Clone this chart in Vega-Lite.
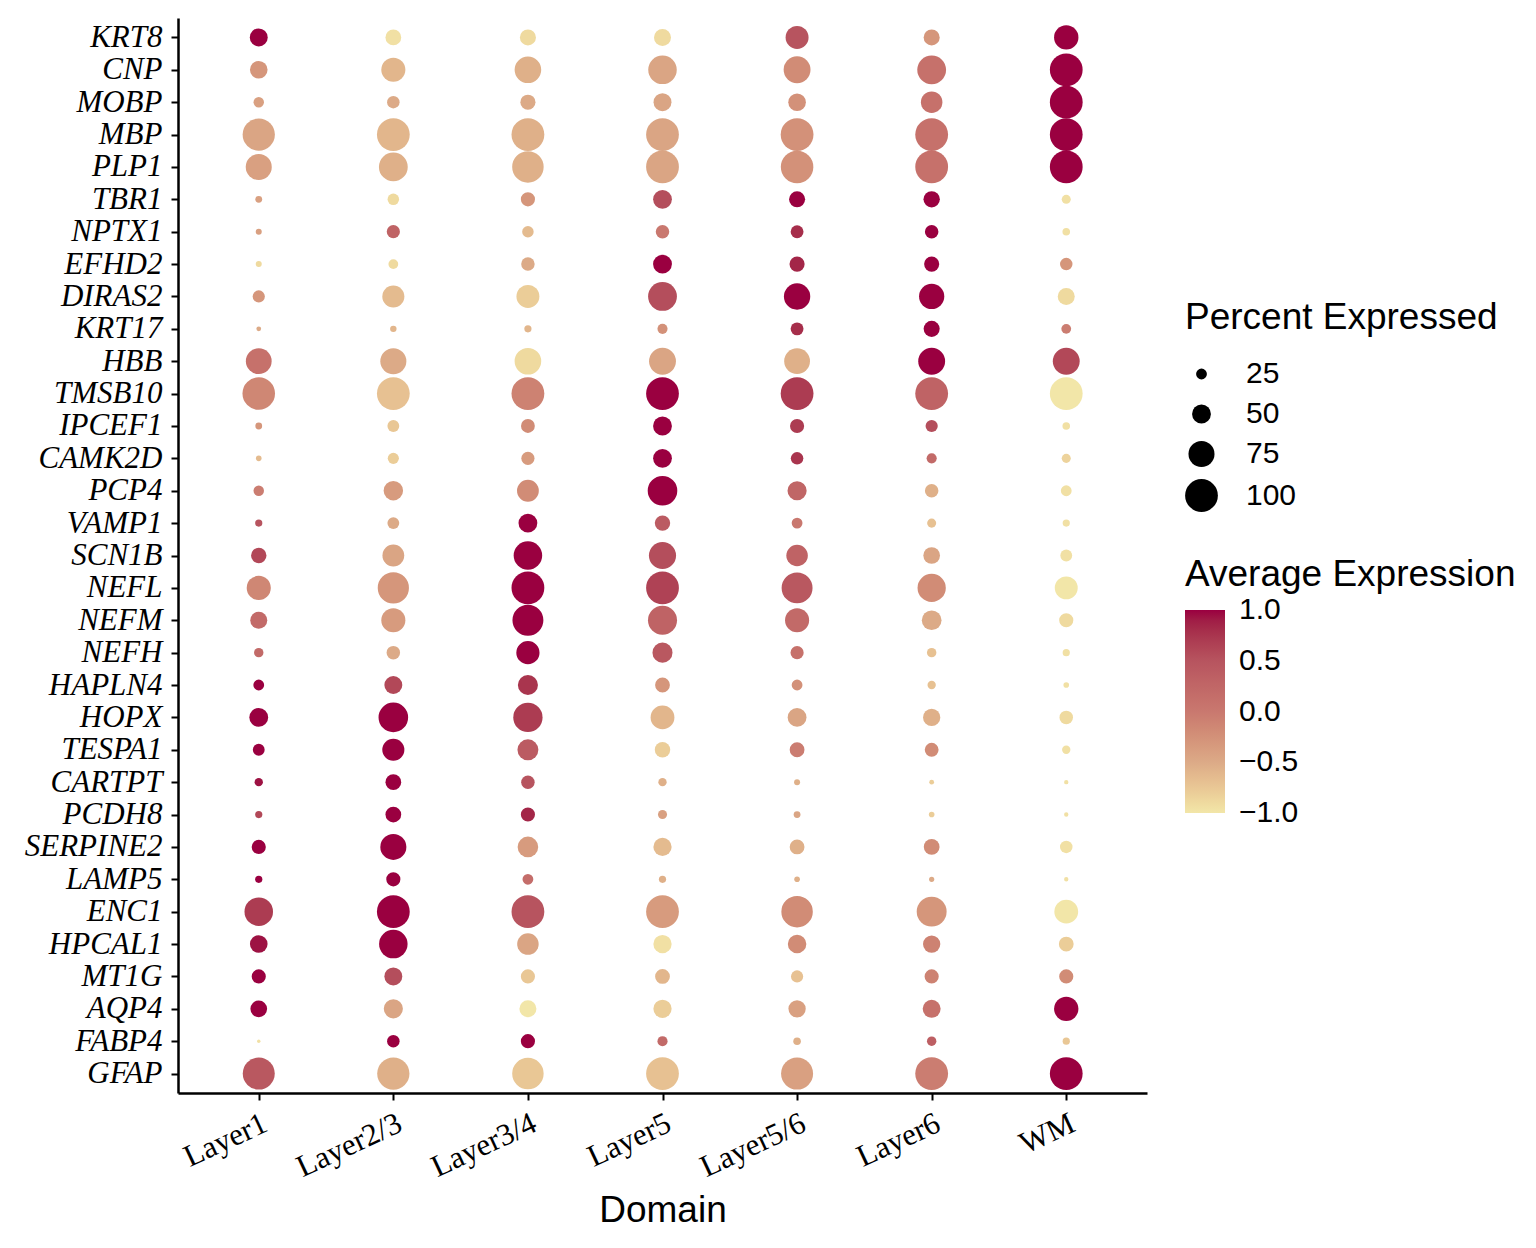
{
  "$schema": "https://vega.github.io/schema/vega-lite/v6.json",
  "autosize": {"type": "none"},
  "width": 969,
  "height": 1075,
  "padding": {"left": 178, "top": 18, "right": 389, "bottom": 155},
  "background": "white",
  "config": {
    "view": {"stroke": null},
    "axis": {
      "grid": false,
      "domainColor": "black",
      "domainWidth": 2.5,
      "tickColor": "black",
      "tickWidth": 2,
      "tickSize": 7,
      "labelColor": "black",
      "titleColor": "black"
    },
    "legend": {
      "titleFont": "Liberation Sans",
      "titleFontWeight": "normal",
      "titleFontSize": 37,
      "titleLimit": 600,
      "titleColor": "black",
      "labelFont": "Liberation Sans",
      "labelFontSize": 30,
      "labelColor": "black"
    }
  },
  "data": {
    "values": [
      {"gene": "KRT8", "domain": "Layer1", "pct": 47, "avg": 1.0},
      {"gene": "KRT8", "domain": "Layer2/3", "pct": 40, "avg": -0.95},
      {"gene": "KRT8", "domain": "Layer3/4", "pct": 41, "avg": -0.9},
      {"gene": "KRT8", "domain": "Layer5", "pct": 44, "avg": -0.9},
      {"gene": "KRT8", "domain": "Layer5/6", "pct": 64, "avg": 0.5},
      {"gene": "KRT8", "domain": "Layer6", "pct": 41, "avg": -0.3},
      {"gene": "KRT8", "domain": "WM", "pct": 69, "avg": 1.0},
      {"gene": "CNP", "domain": "Layer1", "pct": 46, "avg": -0.3},
      {"gene": "CNP", "domain": "Layer2/3", "pct": 68, "avg": -0.6},
      {"gene": "CNP", "domain": "Layer3/4", "pct": 77, "avg": -0.55},
      {"gene": "CNP", "domain": "Layer5", "pct": 84, "avg": -0.45},
      {"gene": "CNP", "domain": "Layer5/6", "pct": 78, "avg": -0.2},
      {"gene": "CNP", "domain": "Layer6", "pct": 85, "avg": 0.1},
      {"gene": "CNP", "domain": "WM", "pct": 100, "avg": 1.0},
      {"gene": "MOBP", "domain": "Layer1", "pct": 24, "avg": -0.4},
      {"gene": "MOBP", "domain": "Layer2/3", "pct": 30, "avg": -0.5},
      {"gene": "MOBP", "domain": "Layer3/4", "pct": 38, "avg": -0.5},
      {"gene": "MOBP", "domain": "Layer5", "pct": 47, "avg": -0.45},
      {"gene": "MOBP", "domain": "Layer5/6", "pct": 46, "avg": -0.25},
      {"gene": "MOBP", "domain": "Layer6", "pct": 59, "avg": 0.1},
      {"gene": "MOBP", "domain": "WM", "pct": 100, "avg": 1.0},
      {"gene": "MBP", "domain": "Layer1", "pct": 98, "avg": -0.45},
      {"gene": "MBP", "domain": "Layer2/3", "pct": 100, "avg": -0.6},
      {"gene": "MBP", "domain": "Layer3/4", "pct": 100, "avg": -0.55},
      {"gene": "MBP", "domain": "Layer5", "pct": 100, "avg": -0.45},
      {"gene": "MBP", "domain": "Layer5/6", "pct": 100, "avg": -0.25},
      {"gene": "MBP", "domain": "Layer6", "pct": 100, "avg": 0.1},
      {"gene": "MBP", "domain": "WM", "pct": 100, "avg": 1.0},
      {"gene": "PLP1", "domain": "Layer1", "pct": 75, "avg": -0.4},
      {"gene": "PLP1", "domain": "Layer2/3", "pct": 85, "avg": -0.55},
      {"gene": "PLP1", "domain": "Layer3/4", "pct": 95, "avg": -0.55},
      {"gene": "PLP1", "domain": "Layer5", "pct": 100, "avg": -0.45},
      {"gene": "PLP1", "domain": "Layer5/6", "pct": 99, "avg": -0.25},
      {"gene": "PLP1", "domain": "Layer6", "pct": 100, "avg": 0.1},
      {"gene": "PLP1", "domain": "WM", "pct": 100, "avg": 1.0},
      {"gene": "TBR1", "domain": "Layer1", "pct": 14, "avg": -0.4},
      {"gene": "TBR1", "domain": "Layer2/3", "pct": 27, "avg": -0.9},
      {"gene": "TBR1", "domain": "Layer3/4", "pct": 35, "avg": -0.3},
      {"gene": "TBR1", "domain": "Layer5", "pct": 50, "avg": 0.55},
      {"gene": "TBR1", "domain": "Layer5/6", "pct": 41, "avg": 1.0},
      {"gene": "TBR1", "domain": "Layer6", "pct": 42, "avg": 1.0},
      {"gene": "TBR1", "domain": "WM", "pct": 20, "avg": -0.95},
      {"gene": "NPTX1", "domain": "Layer1", "pct": 12, "avg": -0.4},
      {"gene": "NPTX1", "domain": "Layer2/3", "pct": 32, "avg": 0.3},
      {"gene": "NPTX1", "domain": "Layer3/4", "pct": 27, "avg": -0.65},
      {"gene": "NPTX1", "domain": "Layer5", "pct": 33, "avg": 0.0},
      {"gene": "NPTX1", "domain": "Layer5/6", "pct": 31, "avg": 0.8},
      {"gene": "NPTX1", "domain": "Layer6", "pct": 33, "avg": 1.0},
      {"gene": "NPTX1", "domain": "WM", "pct": 16, "avg": -0.95},
      {"gene": "EFHD2", "domain": "Layer1", "pct": 12, "avg": -0.9},
      {"gene": "EFHD2", "domain": "Layer2/3", "pct": 22, "avg": -0.9},
      {"gene": "EFHD2", "domain": "Layer3/4", "pct": 33, "avg": -0.5},
      {"gene": "EFHD2", "domain": "Layer5", "pct": 50, "avg": 1.0},
      {"gene": "EFHD2", "domain": "Layer5/6", "pct": 38, "avg": 0.85},
      {"gene": "EFHD2", "domain": "Layer6", "pct": 38, "avg": 1.0},
      {"gene": "EFHD2", "domain": "WM", "pct": 30, "avg": -0.3},
      {"gene": "DIRAS2", "domain": "Layer1", "pct": 29, "avg": -0.3},
      {"gene": "DIRAS2", "domain": "Layer2/3", "pct": 61, "avg": -0.65},
      {"gene": "DIRAS2", "domain": "Layer3/4", "pct": 64, "avg": -0.8},
      {"gene": "DIRAS2", "domain": "Layer5", "pct": 85, "avg": 0.55},
      {"gene": "DIRAS2", "domain": "Layer5/6", "pct": 76, "avg": 1.0},
      {"gene": "DIRAS2", "domain": "Layer6", "pct": 72, "avg": 1.0},
      {"gene": "DIRAS2", "domain": "WM", "pct": 44, "avg": -0.9},
      {"gene": "KRT17", "domain": "Layer1", "pct": 9, "avg": -0.5},
      {"gene": "KRT17", "domain": "Layer2/3", "pct": 13, "avg": -0.6},
      {"gene": "KRT17", "domain": "Layer3/4", "pct": 15, "avg": -0.6},
      {"gene": "KRT17", "domain": "Layer5", "pct": 23, "avg": -0.25},
      {"gene": "KRT17", "domain": "Layer5/6", "pct": 31, "avg": 0.8},
      {"gene": "KRT17", "domain": "Layer6", "pct": 41, "avg": 1.0},
      {"gene": "KRT17", "domain": "WM", "pct": 22, "avg": -0.05},
      {"gene": "HBB", "domain": "Layer1", "pct": 74, "avg": 0.1},
      {"gene": "HBB", "domain": "Layer2/3", "pct": 75, "avg": -0.5},
      {"gene": "HBB", "domain": "Layer3/4", "pct": 77, "avg": -0.9},
      {"gene": "HBB", "domain": "Layer5", "pct": 78, "avg": -0.45},
      {"gene": "HBB", "domain": "Layer5/6", "pct": 74, "avg": -0.55},
      {"gene": "HBB", "domain": "Layer6", "pct": 78, "avg": 1.0},
      {"gene": "HBB", "domain": "WM", "pct": 78, "avg": 0.6},
      {"gene": "TMSB10", "domain": "Layer1", "pct": 99, "avg": -0.15},
      {"gene": "TMSB10", "domain": "Layer2/3", "pct": 100, "avg": -0.7},
      {"gene": "TMSB10", "domain": "Layer3/4", "pct": 100, "avg": -0.1},
      {"gene": "TMSB10", "domain": "Layer5", "pct": 100, "avg": 1.0},
      {"gene": "TMSB10", "domain": "Layer5/6", "pct": 100, "avg": 0.7},
      {"gene": "TMSB10", "domain": "Layer6", "pct": 100, "avg": 0.3},
      {"gene": "TMSB10", "domain": "WM", "pct": 100, "avg": -1.0},
      {"gene": "IPCEF1", "domain": "Layer1", "pct": 14, "avg": -0.3},
      {"gene": "IPCEF1", "domain": "Layer2/3", "pct": 28, "avg": -0.75},
      {"gene": "IPCEF1", "domain": "Layer3/4", "pct": 34, "avg": -0.2},
      {"gene": "IPCEF1", "domain": "Layer5", "pct": 50, "avg": 1.0},
      {"gene": "IPCEF1", "domain": "Layer5/6", "pct": 35, "avg": 0.7},
      {"gene": "IPCEF1", "domain": "Layer6", "pct": 29, "avg": 0.55},
      {"gene": "IPCEF1", "domain": "WM", "pct": 16, "avg": -0.95},
      {"gene": "CAMK2D", "domain": "Layer1", "pct": 11, "avg": -0.65},
      {"gene": "CAMK2D", "domain": "Layer2/3", "pct": 26, "avg": -0.8},
      {"gene": "CAMK2D", "domain": "Layer3/4", "pct": 32, "avg": -0.35},
      {"gene": "CAMK2D", "domain": "Layer5", "pct": 50, "avg": 1.0},
      {"gene": "CAMK2D", "domain": "Layer5/6", "pct": 30, "avg": 0.75},
      {"gene": "CAMK2D", "domain": "Layer6", "pct": 23, "avg": 0.2},
      {"gene": "CAMK2D", "domain": "WM", "pct": 20, "avg": -0.85},
      {"gene": "PCP4", "domain": "Layer1", "pct": 24, "avg": -0.05},
      {"gene": "PCP4", "domain": "Layer2/3", "pct": 52, "avg": -0.35},
      {"gene": "PCP4", "domain": "Layer3/4", "pct": 60, "avg": -0.2},
      {"gene": "PCP4", "domain": "Layer5", "pct": 88, "avg": 1.0},
      {"gene": "PCP4", "domain": "Layer5/6", "pct": 51, "avg": 0.25},
      {"gene": "PCP4", "domain": "Layer6", "pct": 33, "avg": -0.55},
      {"gene": "PCP4", "domain": "WM", "pct": 25, "avg": -0.95},
      {"gene": "VAMP1", "domain": "Layer1", "pct": 15, "avg": 0.5},
      {"gene": "VAMP1", "domain": "Layer2/3", "pct": 28, "avg": -0.5},
      {"gene": "VAMP1", "domain": "Layer3/4", "pct": 50, "avg": 1.0},
      {"gene": "VAMP1", "domain": "Layer5", "pct": 39, "avg": 0.4},
      {"gene": "VAMP1", "domain": "Layer5/6", "pct": 25, "avg": 0.0},
      {"gene": "VAMP1", "domain": "Layer6", "pct": 20, "avg": -0.7},
      {"gene": "VAMP1", "domain": "WM", "pct": 15, "avg": -0.95},
      {"gene": "SCN1B", "domain": "Layer1", "pct": 39, "avg": 0.6},
      {"gene": "SCN1B", "domain": "Layer2/3", "pct": 60, "avg": -0.45},
      {"gene": "SCN1B", "domain": "Layer3/4", "pct": 84, "avg": 1.0},
      {"gene": "SCN1B", "domain": "Layer5", "pct": 79, "avg": 0.55},
      {"gene": "SCN1B", "domain": "Layer5/6", "pct": 59, "avg": 0.3},
      {"gene": "SCN1B", "domain": "Layer6", "pct": 43, "avg": -0.45},
      {"gene": "SCN1B", "domain": "WM", "pct": 28, "avg": -0.95},
      {"gene": "NEFL", "domain": "Layer1", "pct": 68, "avg": -0.15},
      {"gene": "NEFL", "domain": "Layer2/3", "pct": 94, "avg": -0.3},
      {"gene": "NEFL", "domain": "Layer3/4", "pct": 100, "avg": 1.0},
      {"gene": "NEFL", "domain": "Layer5", "pct": 100, "avg": 0.65},
      {"gene": "NEFL", "domain": "Layer5/6", "pct": 93, "avg": 0.45},
      {"gene": "NEFL", "domain": "Layer6", "pct": 83, "avg": -0.2},
      {"gene": "NEFL", "domain": "WM", "pct": 64, "avg": -1.0},
      {"gene": "NEFM", "domain": "Layer1", "pct": 44, "avg": 0.2},
      {"gene": "NEFM", "domain": "Layer2/3", "pct": 68, "avg": -0.35},
      {"gene": "NEFM", "domain": "Layer3/4", "pct": 93, "avg": 1.0},
      {"gene": "NEFM", "domain": "Layer5", "pct": 86, "avg": 0.3},
      {"gene": "NEFM", "domain": "Layer5/6", "pct": 68, "avg": 0.2},
      {"gene": "NEFM", "domain": "Layer6", "pct": 53, "avg": -0.5},
      {"gene": "NEFM", "domain": "WM", "pct": 35, "avg": -0.9},
      {"gene": "NEFH", "domain": "Layer1", "pct": 21, "avg": 0.2},
      {"gene": "NEFH", "domain": "Layer2/3", "pct": 33, "avg": -0.5},
      {"gene": "NEFH", "domain": "Layer3/4", "pct": 65, "avg": 1.0},
      {"gene": "NEFH", "domain": "Layer5", "pct": 54, "avg": 0.45},
      {"gene": "NEFH", "domain": "Layer5/6", "pct": 32, "avg": 0.1},
      {"gene": "NEFH", "domain": "Layer6", "pct": 21, "avg": -0.7},
      {"gene": "NEFH", "domain": "WM", "pct": 15, "avg": -0.95},
      {"gene": "HAPLN4", "domain": "Layer1", "pct": 25, "avg": 1.0},
      {"gene": "HAPLN4", "domain": "Layer2/3", "pct": 47, "avg": 0.6},
      {"gene": "HAPLN4", "domain": "Layer3/4", "pct": 54, "avg": 0.75},
      {"gene": "HAPLN4", "domain": "Layer5", "pct": 37, "avg": -0.3},
      {"gene": "HAPLN4", "domain": "Layer5/6", "pct": 25, "avg": -0.25},
      {"gene": "HAPLN4", "domain": "Layer6", "pct": 18, "avg": -0.7},
      {"gene": "HAPLN4", "domain": "WM", "pct": 11, "avg": -0.95},
      {"gene": "HOPX", "domain": "Layer1", "pct": 50, "avg": 1.0},
      {"gene": "HOPX", "domain": "Layer2/3", "pct": 88, "avg": 1.0},
      {"gene": "HOPX", "domain": "Layer3/4", "pct": 87, "avg": 0.7},
      {"gene": "HOPX", "domain": "Layer5", "pct": 67, "avg": -0.6},
      {"gene": "HOPX", "domain": "Layer5/6", "pct": 50, "avg": -0.45},
      {"gene": "HOPX", "domain": "Layer6", "pct": 45, "avg": -0.55},
      {"gene": "HOPX", "domain": "WM", "pct": 33, "avg": -0.9},
      {"gene": "TESPA1", "domain": "Layer1", "pct": 28, "avg": 1.0},
      {"gene": "TESPA1", "domain": "Layer2/3", "pct": 61, "avg": 1.0},
      {"gene": "TESPA1", "domain": "Layer3/4", "pct": 57, "avg": 0.4},
      {"gene": "TESPA1", "domain": "Layer5", "pct": 39, "avg": -0.8},
      {"gene": "TESPA1", "domain": "Layer5/6", "pct": 37, "avg": -0.05},
      {"gene": "TESPA1", "domain": "Layer6", "pct": 34, "avg": -0.2},
      {"gene": "TESPA1", "domain": "WM", "pct": 18, "avg": -0.95},
      {"gene": "CARTPT", "domain": "Layer1", "pct": 18, "avg": 0.95},
      {"gene": "CARTPT", "domain": "Layer2/3", "pct": 40, "avg": 1.0},
      {"gene": "CARTPT", "domain": "Layer3/4", "pct": 33, "avg": 0.5},
      {"gene": "CARTPT", "domain": "Layer5", "pct": 18, "avg": -0.55},
      {"gene": "CARTPT", "domain": "Layer5/6", "pct": 12, "avg": -0.55},
      {"gene": "CARTPT", "domain": "Layer6", "pct": 9, "avg": -0.8},
      {"gene": "CARTPT", "domain": "WM", "pct": 8, "avg": -0.95},
      {"gene": "PCDH8", "domain": "Layer1", "pct": 15, "avg": 0.6},
      {"gene": "PCDH8", "domain": "Layer2/3", "pct": 40, "avg": 1.0},
      {"gene": "PCDH8", "domain": "Layer3/4", "pct": 35, "avg": 0.85},
      {"gene": "PCDH8", "domain": "Layer5", "pct": 20, "avg": -0.4},
      {"gene": "PCDH8", "domain": "Layer5/6", "pct": 14, "avg": -0.45},
      {"gene": "PCDH8", "domain": "Layer6", "pct": 11, "avg": -0.8},
      {"gene": "PCDH8", "domain": "WM", "pct": 8, "avg": -0.95},
      {"gene": "SERPINE2", "domain": "Layer1", "pct": 35, "avg": 1.0},
      {"gene": "SERPINE2", "domain": "Layer2/3", "pct": 75, "avg": 1.0},
      {"gene": "SERPINE2", "domain": "Layer3/4", "pct": 56, "avg": -0.35},
      {"gene": "SERPINE2", "domain": "Layer5", "pct": 48, "avg": -0.65},
      {"gene": "SERPINE2", "domain": "Layer5/6", "pct": 37, "avg": -0.55},
      {"gene": "SERPINE2", "domain": "Layer6", "pct": 40, "avg": -0.2},
      {"gene": "SERPINE2", "domain": "WM", "pct": 30, "avg": -0.95},
      {"gene": "LAMP5", "domain": "Layer1", "pct": 15, "avg": 1.0},
      {"gene": "LAMP5", "domain": "Layer2/3", "pct": 35, "avg": 1.0},
      {"gene": "LAMP5", "domain": "Layer3/4", "pct": 25, "avg": 0.15},
      {"gene": "LAMP5", "domain": "Layer5", "pct": 15, "avg": -0.55},
      {"gene": "LAMP5", "domain": "Layer5/6", "pct": 11, "avg": -0.55},
      {"gene": "LAMP5", "domain": "Layer6", "pct": 10, "avg": -0.5},
      {"gene": "LAMP5", "domain": "WM", "pct": 8, "avg": -0.95},
      {"gene": "ENC1", "domain": "Layer1", "pct": 84, "avg": 0.7},
      {"gene": "ENC1", "domain": "Layer2/3", "pct": 100, "avg": 1.0},
      {"gene": "ENC1", "domain": "Layer3/4", "pct": 100, "avg": 0.5},
      {"gene": "ENC1", "domain": "Layer5", "pct": 100, "avg": -0.35},
      {"gene": "ENC1", "domain": "Layer5/6", "pct": 95, "avg": -0.2},
      {"gene": "ENC1", "domain": "Layer6", "pct": 89, "avg": -0.3},
      {"gene": "ENC1", "domain": "WM", "pct": 67, "avg": -1.0},
      {"gene": "HPCAL1", "domain": "Layer1", "pct": 46, "avg": 0.95},
      {"gene": "HPCAL1", "domain": "Layer2/3", "pct": 84, "avg": 1.0},
      {"gene": "HPCAL1", "domain": "Layer3/4", "pct": 59, "avg": -0.45},
      {"gene": "HPCAL1", "domain": "Layer5", "pct": 48, "avg": -0.95},
      {"gene": "HPCAL1", "domain": "Layer5/6", "pct": 49, "avg": -0.2},
      {"gene": "HPCAL1", "domain": "Layer6", "pct": 45, "avg": -0.1},
      {"gene": "HPCAL1", "domain": "WM", "pct": 37, "avg": -0.8},
      {"gene": "MT1G", "domain": "Layer1", "pct": 35, "avg": 1.0},
      {"gene": "MT1G", "domain": "Layer2/3", "pct": 47, "avg": 0.55},
      {"gene": "MT1G", "domain": "Layer3/4", "pct": 35, "avg": -0.75},
      {"gene": "MT1G", "domain": "Layer5", "pct": 37, "avg": -0.6},
      {"gene": "MT1G", "domain": "Layer5/6", "pct": 29, "avg": -0.7},
      {"gene": "MT1G", "domain": "Layer6", "pct": 35, "avg": -0.1},
      {"gene": "MT1G", "domain": "WM", "pct": 35, "avg": -0.2},
      {"gene": "AQP4", "domain": "Layer1", "pct": 43, "avg": 1.0},
      {"gene": "AQP4", "domain": "Layer2/3", "pct": 51, "avg": -0.45},
      {"gene": "AQP4", "domain": "Layer3/4", "pct": 44, "avg": -1.0},
      {"gene": "AQP4", "domain": "Layer5", "pct": 48, "avg": -0.8},
      {"gene": "AQP4", "domain": "Layer5/6", "pct": 45, "avg": -0.4},
      {"gene": "AQP4", "domain": "Layer6", "pct": 47, "avg": 0.1},
      {"gene": "AQP4", "domain": "WM", "pct": 69, "avg": 1.0},
      {"gene": "FABP4", "domain": "Layer1", "pct": 6, "avg": -0.95},
      {"gene": "FABP4", "domain": "Layer2/3", "pct": 30, "avg": 1.0},
      {"gene": "FABP4", "domain": "Layer3/4", "pct": 35, "avg": 1.0},
      {"gene": "FABP4", "domain": "Layer5", "pct": 23, "avg": 0.2},
      {"gene": "FABP4", "domain": "Layer5/6", "pct": 16, "avg": -0.55},
      {"gene": "FABP4", "domain": "Layer6", "pct": 21, "avg": 0.35},
      {"gene": "FABP4", "domain": "WM", "pct": 15, "avg": -0.75},
      {"gene": "GFAP", "domain": "Layer1", "pct": 97, "avg": 0.45},
      {"gene": "GFAP", "domain": "Layer2/3", "pct": 98, "avg": -0.55},
      {"gene": "GFAP", "domain": "Layer3/4", "pct": 95, "avg": -0.75},
      {"gene": "GFAP", "domain": "Layer5", "pct": 100, "avg": -0.7},
      {"gene": "GFAP", "domain": "Layer5/6", "pct": 97, "avg": -0.4},
      {"gene": "GFAP", "domain": "Layer6", "pct": 100, "avg": -0.05},
      {"gene": "GFAP", "domain": "WM", "pct": 100, "avg": 1.0}
    ]
  },
  "mark": {"type": "circle", "opacity": 1},
  "encoding": {
    "x": {
      "field": "domain",
      "type": "nominal",
      "sort": ["Layer1", "Layer2/3", "Layer3/4", "Layer5", "Layer5/6", "Layer6", "WM"],
      "scale": {"type": "point", "padding": 0.6},
      "axis": {
        "title": "Domain",
        "titleFont": "Liberation Sans",
        "titleFontWeight": "normal",
        "titleFontSize": 37,
        "titlePadding": 10,
        "labelFont": "Liberation Serif",
        "labelFontSize": 31,
        "labelAngle": -25,
        "labelPadding": 8
      }
    },
    "y": {
      "field": "gene",
      "type": "nominal",
      "sort": ["KRT8", "CNP", "MOBP", "MBP", "PLP1", "TBR1", "NPTX1", "EFHD2", "DIRAS2", "KRT17", "HBB", "TMSB10", "IPCEF1", "CAMK2D", "PCP4", "VAMP1", "SCN1B", "NEFL", "NEFM", "NEFH", "HAPLN4", "HOPX", "TESPA1", "CARTPT", "PCDH8", "SERPINE2", "LAMP5", "ENC1", "HPCAL1", "MT1G", "AQP4", "FABP4", "GFAP"],
      "scale": {"type": "point", "padding": 0.6},
      "axis": {
        "title": null,
        "labelFont": "Liberation Serif",
        "labelFontStyle": "italic",
        "labelFontSize": 31,
        "labelPadding": 9
      }
    },
    "size": {
      "field": "pct",
      "type": "quantitative",
      "title": "Percent Expressed",
      "scale": {"type": "pow", "exponent": 1.6, "domain": [0, 100], "range": [0, 1075]},
      "legend": {
        "orient": "none",
        "legendX": 1007,
        "legendY": 282,
        "values": [25, 50, 75, 100],
        "symbolFillColor": "black",
        "symbolStrokeColor": "black",
        "symbolStrokeWidth": 0,
        "symbolType": "circle",
        "titlePadding": 22,
        "rowPadding": 10,
        "labelOffset": 28
      }
    },
    "color": {
      "field": "avg",
      "type": "quantitative",
      "title": "Average Expression",
      "scale": {
        "domain": [-1.001, -0.5, 0, 0.5, 1.001],
        "range": ["#F2E6A8", "#DCAA87", "#C9786F", "#B7545F", "#9A0040"]
      },
      "legend": {
        "orient": "none",
        "legendX": 1007,
        "legendY": 539,
        "values": [-1, -0.5, 0, 0.5, 1],
        "format": ".1f",
        "gradientLength": 203,
        "gradientThickness": 40,
        "gradientStrokeWidth": 0,
        "titlePadding": 16,
        "labelOffset": 14,
        "labelOverlap": false
      }
    }
  }
}
